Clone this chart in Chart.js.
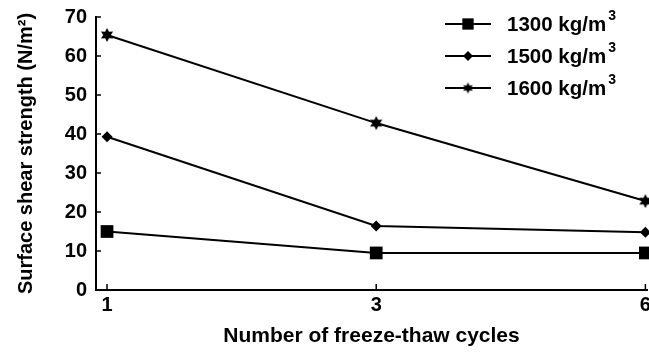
<!DOCTYPE html>
<html>
<head>
<meta charset="utf-8">
<script src="https://cdn.jsdelivr.net/npm/chart.js@4/dist/chart.umd.min.js"></script>
<style>
  html, body { margin: 0; padding: 0; background: #fff; }
  #wrap { width: 649px; height: 353px; position: relative; }
</style>
</head>
<body>
<div id="wrap"><canvas id="chart"></canvas></div>
<script>
// data
var cycleLabels = ['1', '3', '6'];
var densities = [1300, 1500, 1600];
var strength1300 = [15, 9.5, 9.5];
var strength1500 = [39.3, 16.4, 14.8];
var strength1600 = [65.4, 42.8, 22.8];
var yTicks = [0, 10, 20, 30, 40, 50, 60, 70];

var FONT = "'Liberation Sans', Arial, sans-serif";

// filled six pointed star for the 1600 series
function makeStar(r) {
    var c = document.createElement('canvas');
    var s = Math.ceil(r * 2 + 2);
    c.width = s; c.height = s;
    var g = c.getContext('2d');
    g.fillStyle = '#000';
    g.beginPath();
    for (var i = 0; i < 12; i++) {
        var a = Math.PI / 6 * i - Math.PI / 2;
        var rr = (i % 2 === 0) ? r : r * 0.55;
        var px = s / 2 + rr * Math.cos(a), py = s / 2 + rr * Math.sin(a);
        if (i === 0) g.moveTo(px, py); else g.lineTo(px, py);
    }
    g.closePath();
    g.fill();
    return c;
}
var starImg = makeStar(7);
var starSmall = makeStar(5.5);

function pts(values) {
    return values.map(function (v, i) { return { x: i, y: v }; });
}

// inward tick marks on both axes
var innerTicks = {
    id: 'innerTicks',
    afterDraw: function (chart) {
        var ctx = chart.ctx, xs = chart.scales.x, ys = chart.scales.y;
        var area = chart.chartArea;
        ctx.save();
        ctx.strokeStyle = '#000';
        ctx.lineWidth = 1.5;
        ctx.beginPath();
        yTicks.forEach(function (t) {
            var py = ys.getPixelForValue(t);
            ctx.moveTo(area.left, py);
            ctx.lineTo(area.left + 5, py);
        });
        cycleLabels.forEach(function (l, i) {
            var px = xs.getPixelForValue(i);
            ctx.moveTo(px, area.bottom);
            ctx.lineTo(px, area.bottom - 6);
        });
        ctx.stroke();
        ctx.restore();
    }
};

// legend with line + marker, top right
var legendMarks = [
    { style: 'rect', r: 8 },
    { style: 'rectRot', r: 5 },
    { style: starSmall, r: 5 }
];
var lineLegend = {
    id: 'lineLegend',
    afterDraw: function (chart) {
        var ctx = chart.ctx;
        ctx.save();
        chart.data.datasets.forEach(function (ds, i) {
            var y = 24 + i * 32;
            ctx.strokeStyle = '#000';
            ctx.lineWidth = 2;
            ctx.beginPath();
            ctx.moveTo(445, y);
            ctx.lineTo(491, y);
            ctx.stroke();
            Chart.helpers.drawPoint(ctx, {
                pointStyle: legendMarks[i].style,
                radius: legendMarks[i].r,
                borderWidth: 0,
                rotation: 0
            }, 468, y);
            ctx.fillStyle = '#000';
            ctx.textBaseline = 'middle';
            ctx.font = 'bold 20.5px ' + FONT;
            var txt = densities[i] + ' kg/m';
            ctx.fillText(txt, 507, y + 1);
            var w = ctx.measureText(txt).width;
            ctx.font = 'bold 14px ' + FONT;
            ctx.fillText('3', 507 + w + 2, y - 8);
        });
        ctx.restore();
    }
};

function series(values, style, radius) {
    return {
        data: pts(values),
        borderColor: '#000',
        backgroundColor: '#000',
        borderWidth: 2,
        pointStyle: style,
        pointRadius: radius,
        pointBorderWidth: 0,
        pointBackgroundColor: '#000',
        clip: false
    };
}

new Chart(document.getElementById('chart'), {
    type: 'line',
    data: {
        datasets: [
            series(strength1300, 'rect', 9),
            series(strength1500, 'rectRot', 5.5),
            series(strength1600, starImg, 7)
        ]
    },
    options: {
        responsive: true,
        maintainAspectRatio: false,
        animation: false,
        layout: { autoPadding: false, padding: { top: 17, right: 2, left: 0, bottom: 0 } },
        plugins: { legend: { display: false }, tooltip: { enabled: false } },
        scales: {
            x: {
                type: 'linear',
                min: -0.041,
                max: 2.006,
                afterBuildTicks: function (s) {
                    s.ticks = cycleLabels.map(function (l, i) { return { value: i }; });
                },
                afterFit: function (s) {
                    s.height = 63;
                    s.paddingLeft = 0;
                    s.paddingRight = 0;
                },
                grid: { drawOnChartArea: false, drawTicks: false },
                border: { color: '#000', width: 2 },
                ticks: {
                    color: '#000',
                    padding: 3,
                    maxRotation: 0,
                    font: { family: FONT, size: 20, weight: 'bold' },
                    callback: function (v) { return cycleLabels[v]; }
                },
                title: {
                    display: true,
                    text: 'Number of freeze-thaw cycles',
                    color: '#000',
                    font: { family: FONT, size: 21, weight: 'bold' },
                    padding: { top: 6, bottom: 4 }
                }
            },
            y: {
                min: 0,
                max: 70,
                afterBuildTicks: function (s) {
                    s.ticks = yTicks.map(function (v) { return { value: v }; });
                },
                afterFit: function (s) {
                    s.width = 96;
                    s.paddingTop = 0;
                    s.paddingBottom = 0;
                },
                grid: { drawOnChartArea: false, drawTicks: false },
                border: { color: '#000', width: 2 },
                ticks: {
                    color: '#000',
                    padding: 9,
                    font: { family: FONT, size: 20, weight: 'bold' }
                },
                title: {
                    display: true,
                    text: 'Surface shear strength (N/m\u00b2)',
                    color: '#000',
                    font: { family: FONT, size: 20, weight: 'bold' },
                    padding: { top: 14, bottom: 0 }
                }
            }
        }
    },
    plugins: [innerTicks, lineLegend]
});
</script>
</body>
</html>
